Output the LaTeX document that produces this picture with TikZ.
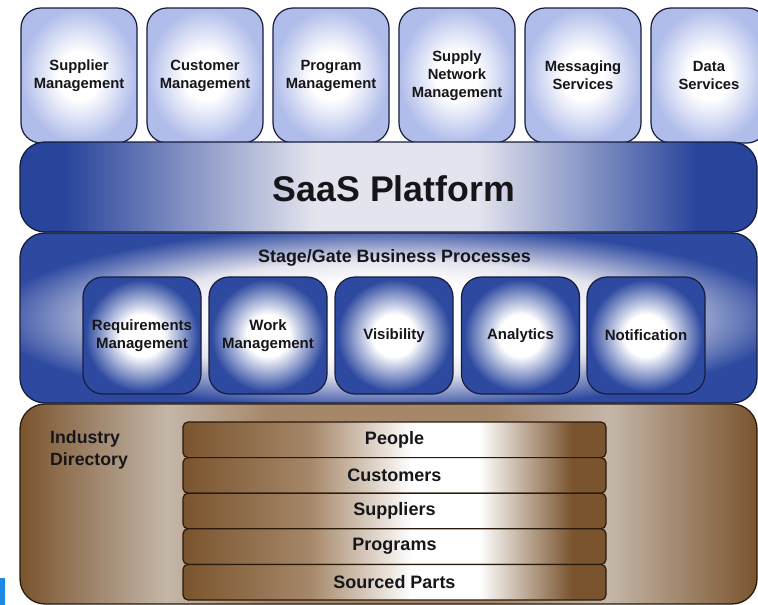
\documentclass[tikz,border=0pt]{standalone}
\usepackage{fontspec}
\setmainfont{Liberation Sans}
\definecolor{lblue}{RGB}{176,188,234}
\definecolor{dblue}{RGB}{46,74,160}
\definecolor{sblue}{RGB}{40,68,155}
\definecolor{pale}{RGB}{228,228,238}
\definecolor{brownD}{RGB}{122,84,46}
\definecolor{brownL}{RGB}{196,182,168}
\definecolor{brownM}{RGB}{165,135,105}
\definecolor{edge}{RGB}{22,28,60}
\definecolor{bedge}{RGB}{42,26,10}
\definecolor{ink}{RGB}{22,22,26}
\definecolor{tagblue}{RGB}{30,136,229}
\pgfdeclareradialshading{shTop}{\pgfpoint{0bp}{0bp}}{color(0bp)=(white); color(9bp)=(white); color(25bp)=(lblue); color(50bp)=(lblue)}
\pgfdeclareradialshading{shStageBox}{\pgfpoint{0bp}{0bp}}{color(0bp)=(white); color(9bp)=(white); color(24bp)=(dblue); color(50bp)=(dblue)}
\pgfdeclareradialshading{shStage}{\pgfpoint{0bp}{0bp}}{color(0bp)=(white); color(11bp)=(white); color(17bp)=(pale); color(27bp)=(dblue); color(50bp)=(dblue)}
\pgfdeclarehorizontalshading{shSaas}{100bp}{color(0bp)=(sblue); color(28bp)=(sblue); color(45bp)=(pale); color(56bp)=(pale); color(71bp)=(sblue); color(100bp)=(sblue)}
\pgfdeclarehorizontalshading{shBrown}{100bp}{color(0bp)=(brownD); color(25bp)=(brownD); color(35bp)=(brownL); color(42bp)=(brownM); color(57bp)=(brownM); color(65bp)=(brownL); color(75bp)=(brownD); color(100bp)=(brownD)}
\pgfdeclarehorizontalshading{shBar}{100bp}{color(0bp)=(brownD); color(25bp)=(brownD); color(40bp)=(brownM); color(52bp)=(white); color(60bp)=(white); color(71bp)=(brownD); color(100bp)=(brownD)}
\tikzset{
  boxtext/.style={font=\fontsize{14.8}{18}\selectfont\bfseries, text=ink, align=center},
  topbox/.style={boxtext, draw=edge, line width=1.2pt, rounded corners=20pt, shading=shTop, minimum width=116pt, minimum height=135pt, inner sep=0pt},
  layer/.style={draw=edge, line width=1.3pt, rounded corners=25pt, minimum width=737pt, inner sep=0pt},
  stagebox/.style={boxtext, font=\fontsize{15}{18.5}\selectfont\bfseries, draw=edge, line width=1.2pt, rounded corners=20pt, shading=shStageBox, minimum width=118pt, minimum height=117pt, inner sep=0pt},
  barbox/.style={draw=bedge, line width=1.2pt, rounded corners=5pt, shading=shBar, minimum width=423pt, minimum height=35.6pt, inner sep=0pt, font=\fontsize{18}{21}\selectfont\bfseries, text=ink},
  bigtext/.style={font=\fontsize{35.7}{40}\selectfont\bfseries, text=ink},
  titletext/.style={font=\fontsize{17.9}{21}\selectfont\bfseries, text=ink}
}
\begin{document}
\begin{tikzpicture}[x=1pt,y=-1pt]
\path[use as bounding box] (0,0) rectangle (758,605);
\clip (0,0) rectangle (758,605);
\fill[white] (0,0) rectangle (758,605);
% top services
\node[topbox] (t1) at (79,75.5) {Supplier\\Management};
\node[topbox] (t2) at (205,75.5) {Customer\\Management};
\node[topbox] (t3) at (331,75.5) {Program\\Management};
\node[topbox] (t4) at (457,75.5) {Supply\\Network\\Management};
\node[topbox] (t5) at (583,75.5) {Messaging\\Services};
\node[topbox] (t6) at (709,75.5) {Data\\Services};
% SaaS platform
\node[layer, shading=shSaas, minimum height=90pt] (saas) at (388.5,187) {};
\node[bigtext] (saastext) at (394,189) {SaaS Platform};
% Stage/Gate layer
\node[layer, shading=shStage, minimum height=170pt] (stage) at (388.5,318) {};
\node[titletext] (stagetext) at (394.5,258) {Stage/Gate Business Processes};
\node[stagebox] (s1) at (142,335.5) {Requirements\\Management};
\node[stagebox] (s2) at (268,335.5) {Work\\Management};
\node[stagebox] (s3) at (394,335.5) {Visibility};
\node[stagebox] (s4) at (520.5,335.5) {Analytics};
\node[stagebox] (s5) at (646,335.5) {Notification};
% Industry directory
\node[layer, draw=bedge, shading=shBrown, minimum height=200pt] (dir) at (388.5,504) {};
\node[titletext, anchor=north west, align=left, font=\fontsize{17.7}{22}\selectfont\bfseries, inner sep=0pt] (dirtext) at (50,430) {Industry\\Directory};
\node[barbox] (b1) at (394.5,439.8) {People};
\node[barbox] (b2) at (394.5,475.4) {Customers};
\node[barbox] (b3) at (394.5,511.0) {Suppliers};
\node[barbox] (b4) at (394.5,546.6) {Programs};
\node[barbox] (b5) at (394.5,582.2) {Sourced Parts};
% small marker at bottom left
\fill[tagblue] (0,578) rectangle (5,605);
\end{tikzpicture}
\end{document}
